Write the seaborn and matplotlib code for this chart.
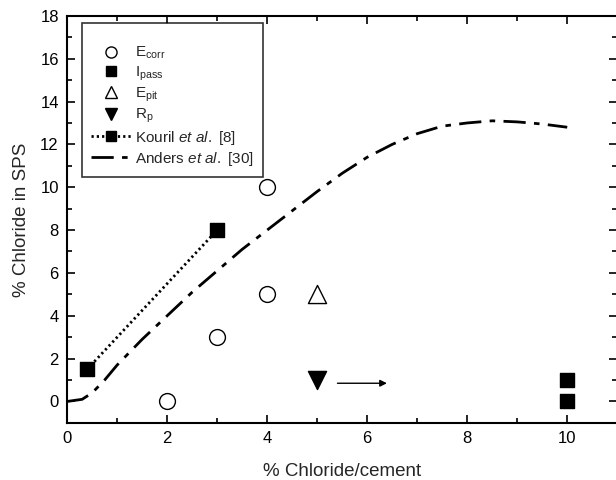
import matplotlib
matplotlib.use("Agg")
import matplotlib.pyplot as plt
import seaborn as sns
import pandas as pd
from matplotlib.lines import Line2D
from matplotlib.ticker import MultipleLocator

sns.set_theme(style="ticks")
plt.rcParams['font.family'] = ['Liberation Sans', 'DejaVu Sans']
plt.rcParams['mathtext.fontset'] = 'custom'
plt.rcParams['mathtext.rm'] = 'Liberation Sans'
plt.rcParams['mathtext.it'] = 'Liberation Sans:italic'

# Data
ecorr_x = [2, 3, 4, 4]
ecorr_y = [0, 3, 5, 10]
ipass_x = [10, 10]
ipass_y = [0, 1]
epit_x = [5]
epit_y = [5]
rp_x = [5]
rp_y = [1]
kouril_x = [0.4, 3]
kouril_y = [1.5, 8]
anders_x = [0, 0.3, 0.5, 0.75, 1, 1.5, 2, 2.5, 3, 3.5, 4, 4.5, 5, 5.5, 6, 6.5, 7, 7.5, 8, 8.5, 9, 9.5, 10]
anders_y = [0, 0.1, 0.4, 1.0, 1.7, 2.9, 4.0, 5.1, 6.1, 7.1, 8.0, 8.9, 9.8, 10.65, 11.4, 12.0, 12.5, 12.85, 13.0, 13.1, 13.05, 12.95, 12.8]

fig = plt.figure(figsize=(6.16, 4.80), dpi=100)
ax = fig.add_axes([0.109, 0.119, 0.893, 0.848])

dashdot = (0, (8, 3, 2, 3))
dotted = (0, (0.8, 1.1))

sns.lineplot(x=anders_x, y=anders_y, ax=ax, color='black', lw=2.0,
             linestyle=dashdot, sort=False)
sns.lineplot(x=kouril_x, y=kouril_y, ax=ax, color='black', lw=2.0,
             linestyle=dotted, sort=False)
ax.scatter(kouril_x, kouril_y, marker='s', s=110, color='black', zorder=5)
ax.scatter(ecorr_x, ecorr_y, marker='o', s=130, facecolors='white',
           edgecolors='black', linewidths=1.0, zorder=5)
ax.scatter(ipass_x, ipass_y, marker='s', s=110, color='black', zorder=5)
ax.scatter(epit_x, epit_y, marker='^', s=170, facecolors='white',
           edgecolors='black', linewidths=1.0, zorder=5)
ax.scatter(rp_x, rp_y, marker='v', s=170, color='black', zorder=5)
ax.annotate('', xy=(6.45, 0.85), xytext=(5.35, 0.85),
            arrowprops=dict(arrowstyle='-|>', color='black', lw=1.0,
                            mutation_scale=10))

ax.set_xlim(0, 11)
ax.set_ylim(-1, 18)
ax.xaxis.set_major_locator(MultipleLocator(2))
ax.xaxis.set_minor_locator(MultipleLocator(1))
ax.yaxis.set_major_locator(MultipleLocator(2))
ax.yaxis.set_minor_locator(MultipleLocator(1))
ax.set_xticks([0, 2, 4, 6, 8, 10])
ax.tick_params(which='both', direction='in', top=True, right=True,
               labelsize=12, colors='black')
ax.tick_params(which='major', length=6, width=1.2, pad=6)
ax.tick_params(which='minor', length=3.5, width=1.2)
for s in ax.spines.values():
    s.set_linewidth(1.5)
    s.set_color('black')
ax.set_xlabel('% Chloride/cement', fontsize=13.5, labelpad=12)
ax.set_ylabel('% Chloride in SPS', fontsize=13.5, labelpad=7)

handles = [
    Line2D([], [], ls='none', marker='o', ms=8, mfc='white', mec='black'),
    Line2D([], [], ls='none', marker='s', ms=7, color='black'),
    Line2D([], [], ls='none', marker='^', ms=9, mfc='white', mec='black'),
    Line2D([], [], ls='none', marker='v', ms=9, color='black'),
    Line2D([], [], ls=dotted, lw=2, marker='s', ms=7, color='black'),
    Line2D([], [], ls=dashdot, lw=2, color='black'),
]
labels = [r'E$_{\mathrm{corr}}$', r'I$_{\mathrm{pass}}$', r'E$_{\mathrm{pit}}$',
          r'R$_{\mathrm{p}}$', r'Kouril $\mathit{et\ al.}$ [8]',
          r'Anders $\mathit{et\ al.}$ [30]']
leg = ax.legend(handles, labels, loc='upper left', fontsize=11,
                frameon=True, fancybox=False, edgecolor='black',
                handlelength=2.6, handletextpad=0.3, labelspacing=0.2,
                borderpad=0.6, borderaxespad=0,
                title=' ', title_fontsize=7,
                bbox_to_anchor=(0.027, 0.983))
leg.get_frame().set_linewidth(1.2)

fig.savefig('out.png', dpi=100)
